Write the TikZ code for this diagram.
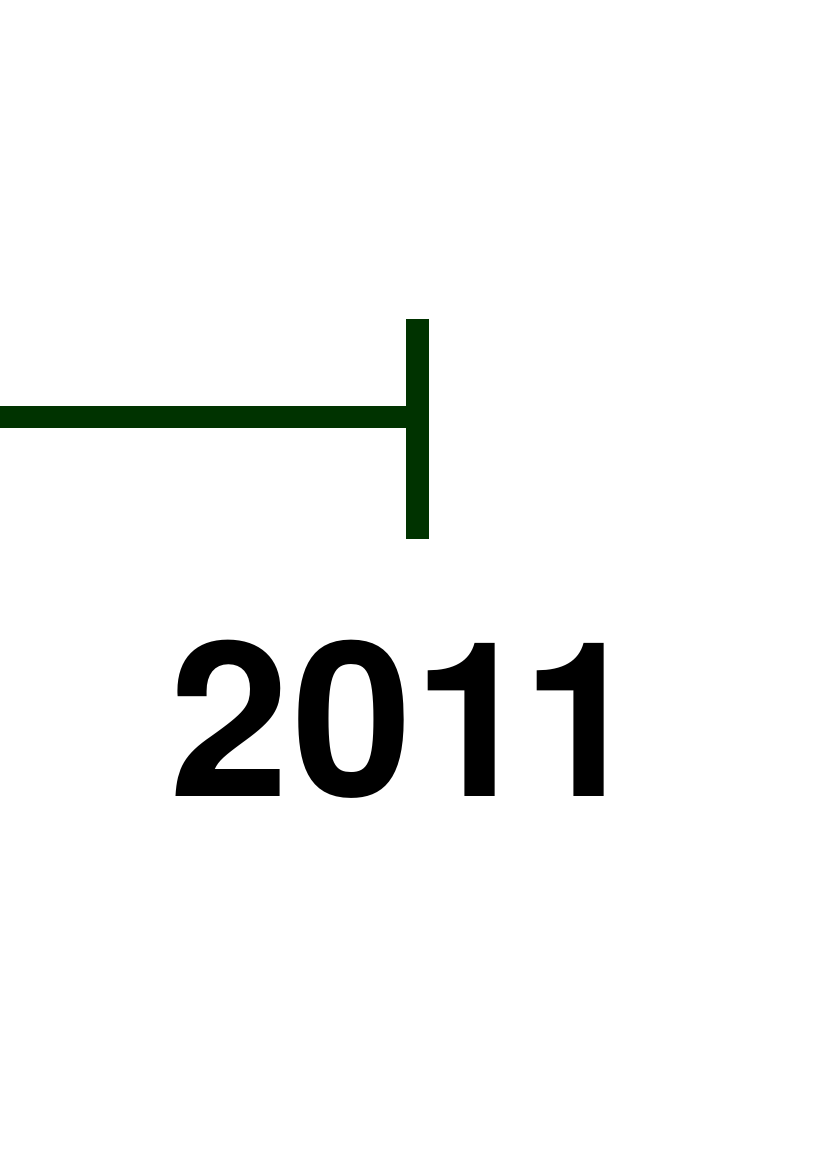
\documentclass[tikz,border=0pt]{standalone}
\usepackage{fontspec}
\setmainfont{TeX Gyre Heros}
\usepackage{xcolor}
\definecolor{darkgreen}{HTML}{003300}

\begin{document}
\begin{tikzpicture}[
        x=1pt, y=1pt,
        bar/.style={draw=darkgreen, line width=22pt},
        year/.style={font=\fontsize{216}{216}\selectfont\bfseries, inner sep=0pt, anchor=base west}
    ]
        \useasboundingbox (0,0) rectangle (826,1169);
        \coordinate (start) at (0,752);
        \coordinate (tick) at (417.5,752);
        \coordinate (ticktop) at (417.5,850);
        \coordinate (tickbot) at (417.5,630);

        \draw[bar] (start) -- (tick);
        \draw[bar, line width=23pt] (ticktop) -- (tickbot);

        \node[year] (yr) at (169,372) {2\kern3pt 0\kern1.5pt 1\kern-12pt 1};
    \end{tikzpicture}
\end{document}
